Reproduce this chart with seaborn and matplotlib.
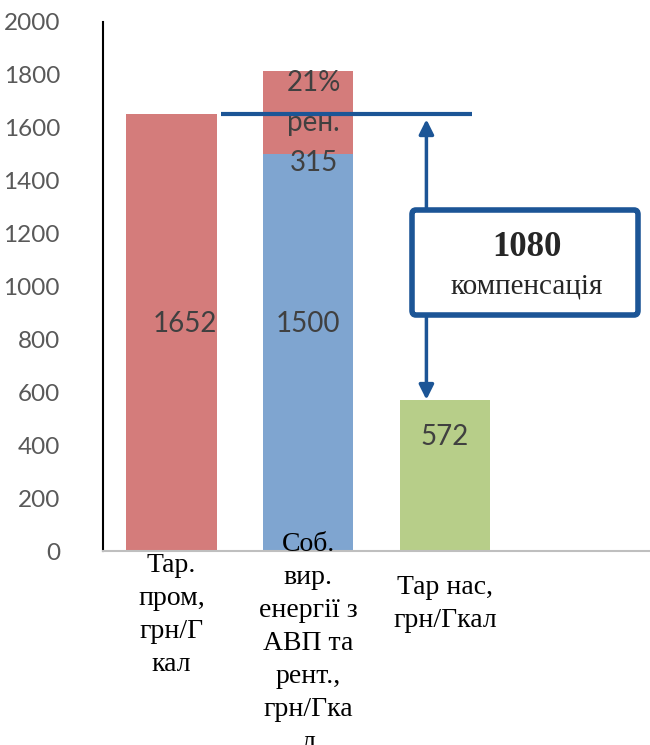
import matplotlib
matplotlib.use("Agg")
import matplotlib.pyplot as plt
import seaborn as sns
import pandas as pd
import numpy as np
from matplotlib.patches import FancyBboxPatch
from matplotlib.transforms import blended_transform_factory

# Categories and values (грн/Гкал)
categories = ["Тар.\nпром,\nгрн/Г\nкал",
              "Соб.\nвир.\nенергії з\nАВП та\nрент.,\nгрн/Гка\nл",
              "Тар нас,\nгрн/Гкал",
              ""]
tariff_industry = 1652
own_cost = 1500
rent_share = 315
tariff_population = 572
compensation = 1080
rent_pct_label = "21%\nрен.\n315"
yticks = [0, 200, 400, 600, 800, 1000, 1200, 1400, 1600, 1800, 2000]

RED = "#D47C7B"
BLUE = "#7FA5D0"
GREEN = "#B7CE89"
NAVY = "#1C5596"
GREY_TXT = "#404040"

sns.set_theme(style="white")
plt.rcParams["font.family"] = ["Lato", "DejaVu Sans"]

totals = pd.DataFrame({
    "cat": categories,
    "value": [tariff_industry, own_cost + rent_share, tariff_population, 0],
})
bases = pd.DataFrame({
    "cat": categories,
    "value": [0, own_cost, 0, 0],
})

fig = plt.figure(figsize=(6.5, 7.45), dpi=100)
ax = fig.add_axes([103 / 650, 1 - 551 / 745, 1 - 103 / 650, (551 - 22) / 745])

sns.barplot(data=totals, x="cat", y="value", hue="cat",
            palette=[RED, RED, GREEN, GREEN], width=0.66,
            legend=False, ax=ax, saturation=1)
sns.barplot(data=bases, x="cat", y="value", color=BLUE, width=0.66,
            ax=ax, saturation=1)
for p in ax.patches:
    p.set_edgecolor("none")

ax.set_xlim(-0.5, 3.5)
ax.set_ylim(0, 2000)
ax.set_yticks(yticks)
ax.set_yticklabels([str(t) for t in yticks], fontsize=17.5, color="#595959")
ax.tick_params(axis="y", length=0, pad=31)
ax.set_xticks([])
ax.set_xlabel("")
ax.set_ylabel("")
for s in ["top", "right"]:
    ax.spines[s].set_visible(False)
ax.spines["left"].set_color("black")
ax.spines["left"].set_linewidth(1.5)
ax.spines["bottom"].set_color("#BFBFBF")
ax.spines["bottom"].set_linewidth(1.5)

# Values inside bars
lbl = dict(fontsize=20, color=GREY_TXT, ha="center", va="center")
ax.text(0.1, 860, str(tariff_industry), **lbl)
ax.text(1.0, 860, str(own_cost), **lbl)
ax.text(2.0, 430, str(tariff_population), **lbl)
ax.text(1.04, 1618, rent_pct_label, linespacing=1.65, **lbl)

# Category labels under the axis
trans = blended_transform_factory(ax.transData, fig.transFigure)
cat_tops = [1 - 553 / 745, 1 - 532 / 745, 1 - 575 / 745]
for i in range(3):
    ax.text(i, cat_tops[i], categories[i], transform=trans, ha="center", va="top",
            fontsize=20, family="Liberation Serif", color="black",
            linespacing=1.42, clip_on=False)

# Reference level and compensation arrow
ax.plot([0.36, 2.2], [tariff_industry, tariff_industry], color=NAVY, lw=3, solid_capstyle="butt")
arrow_x = 1.865
ax.annotate("", xy=(arrow_x, tariff_population), xytext=(arrow_x, tariff_industry - 20),
            arrowprops=dict(arrowstyle="<|-|>", color=NAVY, lw=2.5,
                            mutation_scale=22, shrinkA=0, shrinkB=0))

# Compensation box
bx0, bx1 = 412 / 650, 638 / 650
by0, by1 = 1 - 315 / 745, 1 - 210 / 745
box = FancyBboxPatch((bx0, by0), bx1 - bx0, by1 - by0,
                     boxstyle="round,pad=0,rounding_size=0.006",
                     transform=fig.transFigure, facecolor="white",
                     edgecolor=NAVY, linewidth=4, zorder=5)
fig.patches.append(box)
fig.text(527 / 650, 1 - 247 / 745, str(compensation), ha="center", va="center",
         fontsize=25, fontweight="bold", family="Liberation Serif", zorder=6)
fig.text(527 / 650, 1 - 287 / 745, "компенсація", ha="center", va="center",
         fontsize=21, family="Liberation Serif", zorder=6)

fig.savefig("out.png", dpi=100)
